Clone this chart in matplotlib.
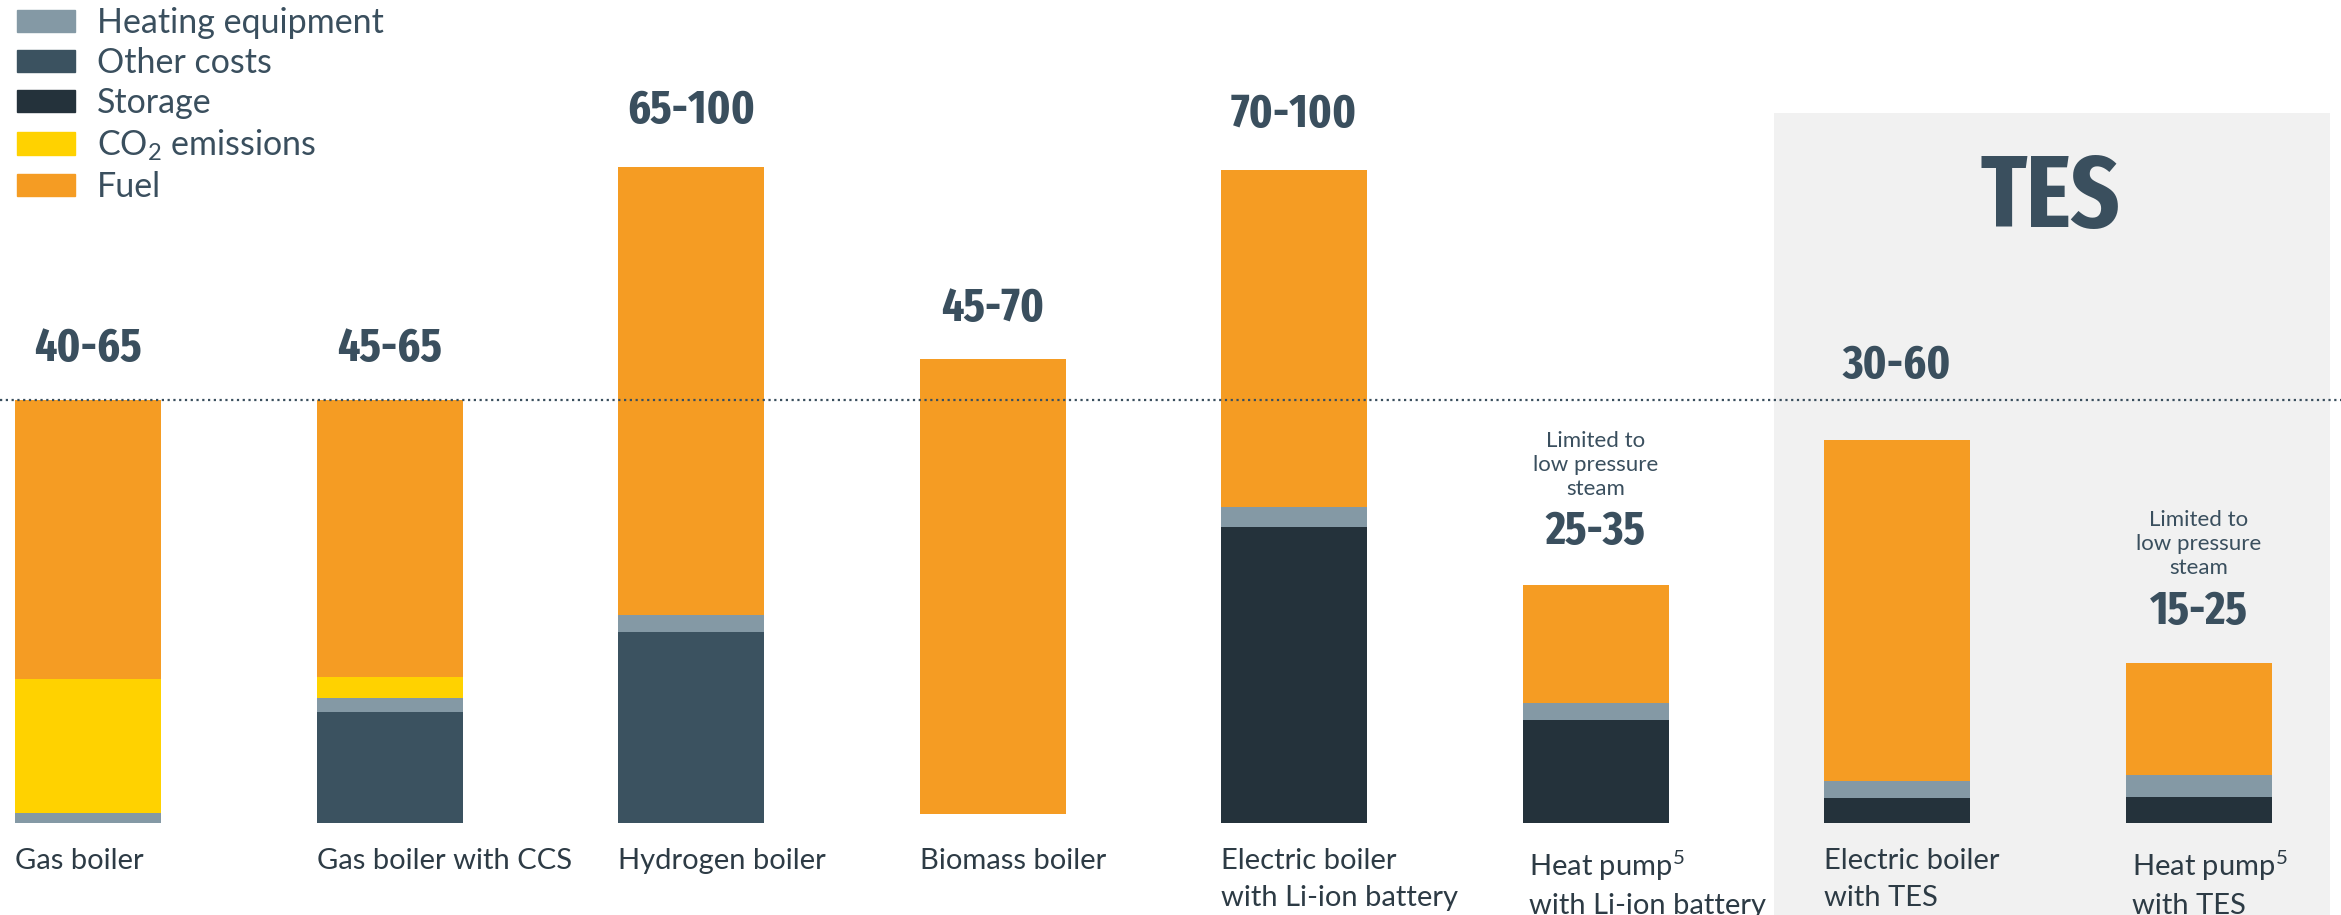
import os
import matplotlib.pyplot as plt
import matplotlib.font_manager as fm
from matplotlib.patches import Patch, Rectangle

# data (arbitrary cost units, dotted line = 65)
categories = ['Gas boiler', 'Gas boiler with CCS', 'Hydrogen boiler', 'Biomass boiler',
              'Electric boiler\nwith Li-ion battery', 'Heat pump$^\\mathregular{5}$\nwith Li-ion battery',
              'Electric boiler\nwith TES', 'Heat pump$^\\mathregular{5}$\nwith TES']
ranges = ['40-65', '45-65', '65-100', '45-70', '70-100', '25-35', '30-60', '15-25']
limited = [False, False, False, False, False, True, False, True]

other_costs = [0, 17.0, 29.3, 0, 0, 0, 0, 0]
storage = [0, 0, 0, 0, 45.4, 15.8, 3.8, 4.0]
blank = [0, 0, 0, 1.3, 0, 0, 0, 0]
heating = [1.5, 2.2, 2.6, 0, 3.1, 2.6, 2.6, 3.4]
co2 = [20.6, 3.2, 0, 0, 0, 0, 0, 0]
fuel = [42.9, 42.6, 68.9, 70.0, 51.8, 18.1, 52.4, 17.1]
reference_level = 65

c_fuel = '#F59C23'
c_co2 = '#FFD200'
c_heat = '#8499A5'
c_other = '#3B5260'
c_storage = '#24323B'
c_text = '#3A4F5E'
c_label = '#2D3B45'

# look for a condensed bold face for the big numbers
cand = []
for f in fm.fontManager.ttflist:
    fn = os.path.basename(f.fname)
    if 'Bold' not in fn or 'Italic' in fn or 'Oblique' in fn:
        continue
    if 'ExtraCondensedBold' in fn or 'ExtraCondensed-Bold' in fn:
        cand.append((0, f.fname))
    elif 'CondensedBold' in fn or 'Condensed-Bold' in fn:
        cand.append((1, f.fname))
    elif 'Narrow' in fn:
        cand.append((2, f.fname))
cand.sort()
if cand:
    big = fm.FontProperties(fname=cand[0][1])
else:
    big = fm.FontProperties(family='DejaVu Sans', weight='bold')

plt.rcParams['font.family'] = ['Lato', 'DejaVu Sans']

fig = plt.figure(figsize=(23.41, 9.15), dpi=100)
ax = fig.add_axes([0, 0, 1, 1])
ax.set_xlim(-0.2919, 7.4726)
ax.set_ylim(-14.18, 126.38)
ax.axis('off')

x = list(range(len(categories)))
w = 0.4843

# TES shaded panel
ax.add_patch(Rectangle((5.592, -20), 1.845, 109.0 + 20, facecolor='#F1F1F1', edgecolor='none', zorder=0))
ax.text(6.51, 95.6, 'TES', ha='center', va='center', fontproperties=big, fontsize=74, color=c_text)

b = [0.0] * len(x)
for vals, col in [(other_costs, c_other), (storage, c_storage), (blank, 'none'),
                  (heating, c_heat), (co2, c_co2), (fuel, c_fuel)]:
    ax.bar(x, vals, w, bottom=b, color=col, linewidth=0, zorder=2)
    b = [bi + vi for bi, vi in zip(b, vals)]

ax.axhline(reference_level, color=c_text, lw=1.6, linestyle=(0, (1, 1.6)), zorder=3)

lift = [51, 51, 56, 50, 55, 53, 74, 52]
for i in x:
    ax.annotate(ranges[i], (i, b[i]), xytext=(0, lift[i]), textcoords='offset pixels',
                ha='center', va='center', fontproperties=big, fontsize=34, color=c_text)
    if limited[i]:
        ax.annotate('Limited to\nlow pressure\nsteam', (i, b[i]), xytext=(0, lift[i] + 67),
                    textcoords='offset pixels', ha='center', va='center', fontsize=16,
                    color=c_text, linespacing=1.25)
    ax.text(i - w / 2 + (0.02 if 'pump' in categories[i] else 0), -3.9, categories[i],
            ha='left', va='top', fontsize=21, color=c_label, linespacing=1.5)

handles = [Patch(color=c_heat), Patch(color=c_other), Patch(color=c_storage),
           Patch(color=c_co2), Patch(color=c_fuel)]
labels = ['Heating equipment', 'Other costs', 'Storage', 'CO$_\\mathregular{2}$ emissions', 'Fuel']
leg = fig.legend(handles, labels, loc='upper left', bbox_to_anchor=(17 / 2341, 1 - 7 / 915),
                 frameon=False, fontsize=24.5, handlelength=1.7, handleheight=0.62,
                 handletextpad=0.65, labelspacing=0.24, borderpad=0, borderaxespad=0)
for t in leg.get_texts():
    t.set_color(c_text)

fig.savefig('out.png', dpi=100)
